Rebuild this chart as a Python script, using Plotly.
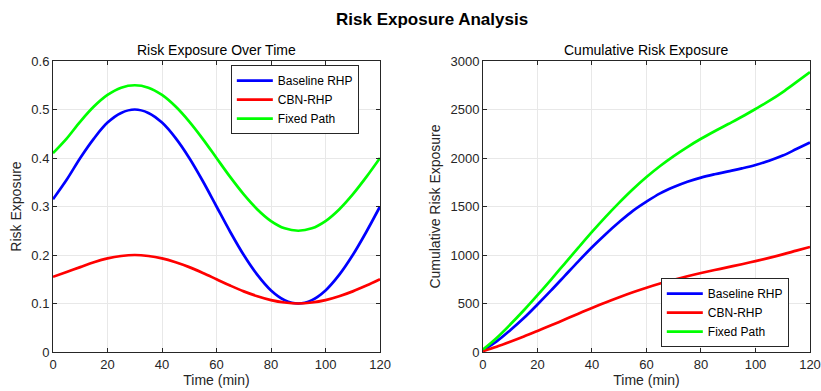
import plotly.graph_objects as go

time_min = [0, 5, 10, 15, 20, 25, 30, 35, 40, 45, 50, 55, 60, 65, 70, 75, 80, 85, 90, 95, 100, 105, 110, 115, 120]

risk_baseline = [0.315, 0.355, 0.40, 0.44, 0.473, 0.493, 0.50, 0.493, 0.473, 0.441, 0.40, 0.352, 0.30,
                 0.248, 0.20, 0.159, 0.127, 0.107, 0.10, 0.107, 0.127, 0.159, 0.20, 0.248, 0.30]
risk_cbn = [0.155, 0.165, 0.175, 0.185, 0.193, 0.198, 0.20, 0.198, 0.193, 0.185, 0.175, 0.163, 0.15,
            0.137, 0.125, 0.115, 0.107, 0.102, 0.10, 0.102, 0.107, 0.115, 0.125, 0.137, 0.15]
risk_fixed = [0.41, 0.44, 0.475, 0.506, 0.53, 0.545, 0.55, 0.545, 0.53, 0.506, 0.475, 0.439, 0.40,
              0.361, 0.325, 0.294, 0.27, 0.255, 0.25, 0.255, 0.27, 0.294, 0.325, 0.361, 0.40]

cum_baseline = [19, 110, 225, 350, 490, 635, 785, 935, 1080, 1215, 1340, 1455, 1550,
                1635, 1700, 1755, 1798, 1832, 1862, 1893, 1928, 1972, 2025, 2092, 2160]
cum_cbn = [9, 55, 106, 160, 217, 275, 335, 395, 454, 511, 565, 616, 663,
           706, 745, 781, 814, 845, 875, 905, 937, 970, 1006, 1045, 1083]
cum_fixed = [25, 145, 283, 430, 586, 747, 912, 1076, 1238, 1393, 1540, 1678, 1804,
             1918, 2020, 2113, 2198, 2276, 2350, 2425, 2505, 2588, 2680, 2782, 2885]

series_names = ["Baseline RHP", "CBN-RHP", "Fixed Path"]
colors = ["#0000ff", "#ff0000", "#00ff00"]

x_ticks = [0, 20, 40, 60, 80, 100, 120]
y1_ticks = [0, 0.1, 0.2, 0.3, 0.4, 0.5, 0.6]
y1_labels = ["0", "0.1", "0.2", "0.3", "0.4", "0.5", "0.6"]
y2_ticks = [0, 500, 1000, 1500, 2000, 2500, 3000]

FONT = "Liberation Sans, Arial, sans-serif"
TXT = "#262626"

fig = go.Figure()
for name, col, ys in zip(series_names, colors, [risk_baseline, risk_cbn, risk_fixed]):
    fig.add_trace(go.Scatter(x=time_min, y=ys, mode="lines", name=name,
                             line=dict(color=col, width=2.7, shape="spline"),
                             xaxis="x", yaxis="y", legend="legend"))
for name, col, ys in zip(series_names, colors, [cum_baseline, cum_cbn, cum_fixed]):
    fig.add_trace(go.Scatter(x=time_min, y=ys, mode="lines", name=name,
                             line=dict(color=col, width=2.7, shape="spline"),
                             xaxis="x2", yaxis="y2", legend="legend2"))

axis_common = dict(showgrid=True, gridcolor="#e8e8e8", gridwidth=1, zeroline=False,
                   showline=True, linecolor="#262626", linewidth=1, mirror="ticks",
                   ticks="inside", ticklen=4, tickcolor="#262626", automargin=False,
                   tickfont=dict(family=FONT, size=13, color=TXT))

xtitle = dict(text="Time (min)", font=dict(family=FONT, size=14, color=TXT), standoff=2)

fig.update_layout(
    width=821, height=391,
    margin=dict(l=53, r=11, t=61, b=39),
    paper_bgcolor="white", plot_bgcolor="white",
    font=dict(family=FONT, color=TXT),
    xaxis=dict(domain=[0, 0.432], range=[0, 120], tickvals=x_ticks, title=xtitle, **axis_common),
    yaxis=dict(domain=[0, 1], range=[0, 0.6], tickvals=y1_ticks, ticktext=y1_labels,
               title=dict(text="Risk Exposure", font=dict(family=FONT, size=14, color=TXT), standoff=6),
               **axis_common),
    xaxis2=dict(domain=[0.568, 1], range=[0, 120], tickvals=x_ticks, anchor="y2", title=xtitle,
                **axis_common),
    yaxis2=dict(domain=[0, 1], range=[0, 3000], tickvals=y2_ticks, anchor="x2",
                title=dict(text="Cumulative Risk Exposure", font=dict(family=FONT, size=14, color=TXT), standoff=6),
                **axis_common),
    legend=dict(x=0.404, y=0.986, xanchor="right", yanchor="top",
                bgcolor="white", bordercolor="#262626", borderwidth=1,
                font=dict(family=FONT, size=12, color="black"),
                itemwidth=36, tracegroupgap=0),
    legend2=dict(x=0.972, y=0.017, xanchor="right", yanchor="bottom",
                 bgcolor="white", bordercolor="#262626", borderwidth=1,
                 font=dict(family=FONT, size=12, color="black"),
                 itemwidth=36, tracegroupgap=0),
    showlegend=True,
    annotations=[
        dict(text="<b>Risk Exposure Analysis</b>", x=0.5, xref="paper", xanchor="center",
             y=1.0, yref="paper", yanchor="bottom", yshift=30, showarrow=False,
             font=dict(family=FONT, size=17, color="black")),
        dict(text="Risk Exposure Over Time", x=0.216, xref="paper", xanchor="center",
             y=1.0, yref="paper", yanchor="bottom", yshift=1, showarrow=False,
             font=dict(family=FONT, size=14, color="black")),
        dict(text="Cumulative Risk Exposure", x=0.784, xref="paper", xanchor="center",
             y=1.0, yref="paper", yanchor="bottom", yshift=1, showarrow=False,
             font=dict(family=FONT, size=14, color="black")),
    ],
)

fig.write_html("out.html")
